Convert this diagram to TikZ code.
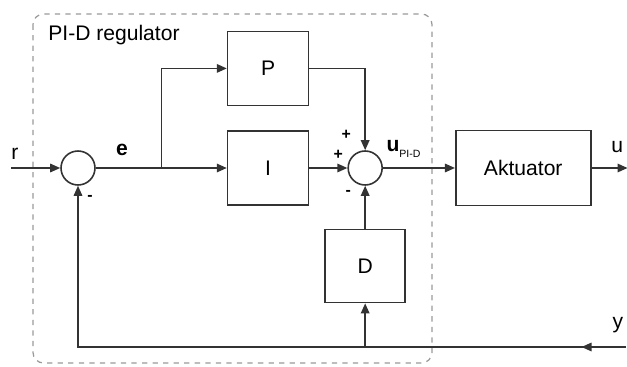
\documentclass[tikz,border=0pt]{standalone}
\usepackage{fontspec}
\setmainfont{Liberation Sans}
\usepackage{xcolor}
\usepackage{tikz}
\usetikzlibrary{arrows.meta,calc,positioning}
\definecolor{pidline}{HTML}{333333}
\definecolor{piddash}{HTML}{9A9A9A}

\begin{document}
\begin{tikzpicture}[
  font=\fontsize{12}{14}\selectfont,
  block/.style={draw=pidline, line width=0.9pt, minimum width=16.2mm,
                minimum height=14.8mm, align=center, inner sep=2pt},
  sumnode/.style={draw=pidline, line width=0.9pt, circle, minimum size=6.8mm, inner sep=0pt},
  sign/.style={font=\fontsize{9}{10}\selectfont\bfseries, inner sep=0pt},
  signal/.style={font=\fontsize{12}{14}\selectfont, inner sep=0pt},
  arrow/.style={-{Triangle[length=2mm,width=1.7mm]}, line width=0.9pt, draw=pidline},
  line/.style={line width=0.9pt, draw=pidline},
  regbox/.style={draw=piddash, dashed, line width=0.7pt, rounded corners=6pt}
]
  \node[sumnode] (s1) {};
  \node[block, right=26.2mm of s1] (int) {I};
  \node[block, above=4.8mm of int] (prop) {P};
  \node[sumnode, right=7.6mm of int] (s2) {};
  \node[block, below=8.6mm of s2, minimum width=16mm, minimum height=14.6mm] (deriv) {D};
  \node[block, right=14.4mm of s2, minimum width=27mm, minimum height=15mm] (akt) {Aktuator};

  \coordinate[left=9.8mm of s1] (rin);
  \coordinate[right=7.2mm of akt] (uout);
  \coordinate[below=35.8mm of uout, xshift=-0.4mm] (yin);
  \coordinate (br) at ($(s1.east)!0.5!(int.west)$);

  \useasboundingbox ($(s1)+(-15.6mm,33.6mm)$) rectangle ($(s1)+(109.8mm,-39.8mm)$);

  % regulator frame
  \draw[regbox] ($(s1)+(-9mm,30.8mm)$) rectangle ($(s1)+(70.8mm,-39mm)$);
  \node[anchor=north west, inner sep=0pt] (title) at ($(s1)+(-6mm,28.6mm)$) {PI-D regulator};

  % signals
  \draw[arrow] (rin) -- (s1);
  \draw[line] (s1) -- (br);
  \draw[arrow] (br) -- (int);
  \draw[arrow] (br) |- (prop);
  \draw[arrow] (prop) -| (s2);
  \draw[arrow] (int) -- (s2);
  \draw[arrow] (deriv) -- (s2);
  \draw[arrow] (s2) -- (akt);
  \draw[arrow] (akt) -- (uout);
  \draw[arrow] (yin) -- ++(-8.8mm,0);
  \draw[arrow] (yin) -- (s1 |- yin) -- (s1);
  \draw[arrow] (deriv |- yin) -- (deriv);

  % labels
  \node[signal] (rlab) at ($(s1)+(-12.6mm,2.8mm)$) {r};
  \node[signal, font=\fontsize{12}{14}\selectfont\bfseries] (elab) at ($(s1)+(8.8mm,3.6mm)$) {e};
  \node[signal, anchor=west] (ulab) at ($(s2)+(4.2mm,3.8mm)$)
    {\textbf{u}\raisebox{-0.5ex}{\fontsize{6}{7}\selectfont PI-D}};
  \node[signal, anchor=east] (uend) at ($(uout)+(-0.8mm,4.2mm)$) {u};
  \node[signal, anchor=east] (yend) at ($(yin)+(-0.4mm,4.4mm)$) {y};
  \node[sign] (m1) at ($(s1)+(2.4mm,-6mm)$) {-};
  \node[sign] (p1) at ($(s2)+(-3.8mm,6.6mm)$) {+};
  \node[sign] (p2) at ($(s2)+(-5.4mm,2.6mm)$) {+};
  \node[sign] (m2) at ($(s2)+(-3.4mm,-5mm)$) {-};
\end{tikzpicture}
\end{document}
